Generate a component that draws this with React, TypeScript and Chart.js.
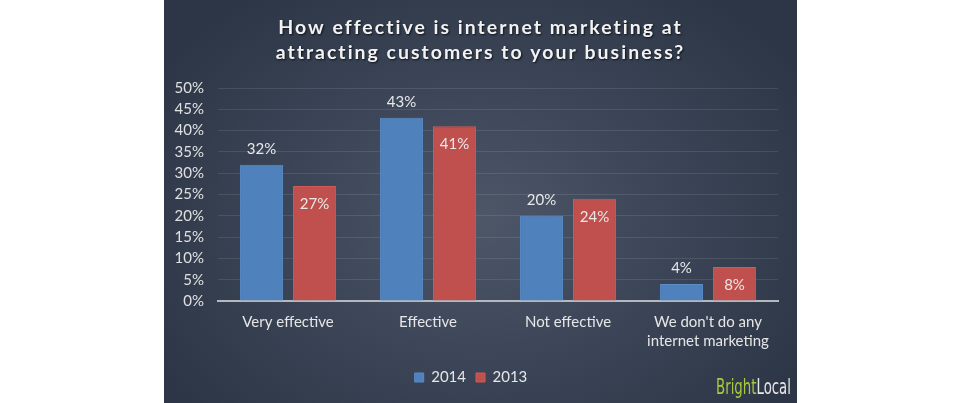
import React, { useEffect, useRef } from "react";
import { Chart, registerables } from "chart.js";
Chart.register(...registerables);

const categories: string[][] = [
  ["Very effective"],
  ["Effective"],
  ["Not effective"],
  ["We don't do any", "internet marketing"],
];
const values2014 = [32, 43, 20, 4];
const values2013 = [27, 41, 24, 8];
const seriesNames = ["2014", "2013"];
const titleLines = [
  "How effective is internet marketing at",
  "attracting customers to your business?",
];
const brandParts = ["Bright", "Local"];

const FONT = "Lato, 'Open Sans', sans-serif";

const titlePlugin = {
  id: "customTitle",
  afterDraw(chart: any) {
    const ctx = chart.ctx as CanvasRenderingContext2D;
    ctx.save();
    ctx.font = `bold 19.5px ${FONT}`;
    (ctx as any).letterSpacing = "2px";
    ctx.textAlign = "center";
    ctx.textBaseline = "middle";
    ctx.fillStyle = "#f2f2f2";
    ctx.shadowColor = "rgba(0,0,0,0.7)";
    ctx.shadowOffsetX = 1;
    ctx.shadowOffsetY = 1;
    ctx.shadowBlur = 2;
    const cx = chart.width / 2;
    ctx.fillText(titleLines[0], cx, 28);
    ctx.fillText(titleLines[1], cx, 53);
    ctx.restore();

    // brand
    ctx.save();
    ctx.font = `300 22px 'DejaVu Sans Condensed', ${FONT}`;
    ctx.textBaseline = "alphabetic";
    ctx.textAlign = "left";
    const w1 = ctx.measureText(brandParts[0]).width;
    const w2 = ctx.measureText(brandParts[1]).width;
    const target = 75;
    const sx = target / (w1 + w2);
    ctx.translate(716 - 164, 394);
    ctx.scale(sx, 1);
    ctx.fillStyle = "#a8c840";
    ctx.fillText(brandParts[0], 0, 0);
    ctx.fillStyle = "#e6e6e6";
    ctx.fillText(brandParts[1], w1, 0);
    ctx.restore();
  },
};

const valuePlugin = {
  id: "valueLabels",
  afterDatasetsDraw(chart: any) {
    const ctx = chart.ctx as CanvasRenderingContext2D;
    ctx.save();
    ctx.font = `15px ${FONT}`;
    ctx.textAlign = "center";
    ctx.textBaseline = "middle";
    ctx.fillStyle = "#e8e8e8";
    chart.data.datasets.forEach((ds: any, di: number) => {
      const meta = chart.getDatasetMeta(di);
      meta.data.forEach((bar: any, i: number) => {
        const text = ds.data[i] + "%";
        const y = di === 0 ? bar.y - 16 : bar.y + 18;
        ctx.fillText(text, bar.x, y);
      });
    });
    ctx.restore();
  },
};

export default function App() {
  const ref = useRef<HTMLCanvasElement>(null);
  useEffect(() => {
    if (!ref.current) return;
    const chart = new Chart(ref.current, {
      type: "bar",
      data: {
        labels: categories as any,
        datasets: [
          {
            label: seriesNames[0],
            data: values2014,
            backgroundColor: "#4f81bd",
            borderColor: "#5b8cc8",
            borderWidth: 1,
          },
          {
            label: seriesNames[1],
            data: values2013,
            backgroundColor: "#c0504d",
            borderColor: "#cc5c58",
            borderWidth: 1,
          },
        ],
      },
      options: {
        responsive: false,
        animation: false,
        layout: { padding: { top: 88, right: 19, left: 0, bottom: 8 } },
        datasets: {
          bar: { categoryPercentage: 0.757, barPercentage: 0.81 },
        } as any,
        scales: {
          x: {
            grid: { display: false, drawTicks: false },
            border: { display: true, color: "#b4b9bf", width: 2 },
            ticks: {
              color: "#e6e6e6",
              font: { family: FONT, size: 15, lineHeight: 1.25 },
              padding: 12,
              maxRotation: 0,
              autoSkip: false,
            },
            afterFit(scale: any) {
              scale.height = 59;
            },
          },
          y: {
            min: 0,
            max: 50,
            grid: { color: "rgba(255,255,255,0.1)", lineWidth: 1, drawTicks: false },
            border: { display: false },
            ticks: {
              stepSize: 5,
              color: "#e0e0e0",
              font: { family: FONT, size: 15 },
              padding: 14,
              callback: (v: any) => v + "%",
            },
            afterFit(scale: any) {
              scale.width = 54;
            },
          },
        },
        plugins: {
          title: { display: false },
          tooltip: { enabled: false },
          legend: {
            display: true,
            position: "bottom",
            labels: {
              color: "#e6e6e6",
              font: { family: FONT, size: 15 },
              boxWidth: 9,
              boxHeight: 9,
              padding: 10,
            },
          },
        },
      },
      plugins: [titlePlugin, valuePlugin],
    });
    return () => chart.destroy();
  }, []);

  return (
    <div
      style={{
        position: "fixed",
        left: 164,
        top: 0,
        width: 633,
        height: 403,
        background:
          "radial-gradient(ellipse 60% 70% at 50% 55%, #4d5768 0%, #3d4759 45%, #2c3646 100%)",
      }}
    >
      <canvas ref={ref} width={633} height={403} style={{ display: "block" }} />
    </div>
  );
}
